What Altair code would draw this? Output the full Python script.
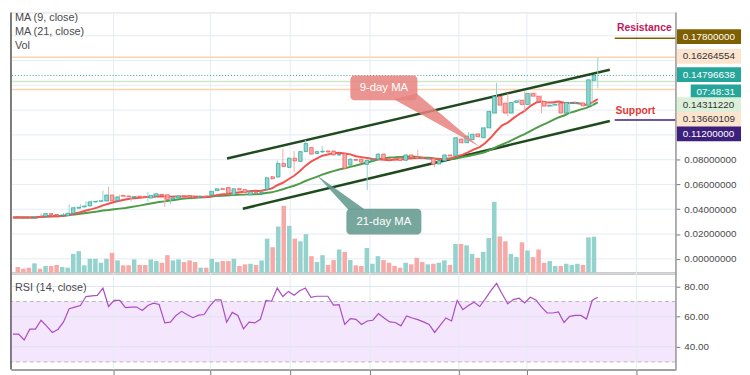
import altair as alt
import pandas as pd
import numpy as np

# ---------------- data ----------------
opens = [0.0337, 0.0336, 0.0335, 0.0331, 0.0337, 0.0343, 0.0365, 0.0358, 0.0350, 0.0347,
         0.0366, 0.0408, 0.0418, 0.0426, 0.0458, 0.0464, 0.0466, 0.0515, 0.0470, 0.0512,
         0.0507, 0.0497, 0.0506, 0.0503, 0.0490, 0.0505, 0.0520, 0.0517, 0.0480, 0.0491,
         0.0508, 0.0510, 0.0501, 0.0498, 0.0506, 0.0513, 0.0550, 0.0566, 0.0575, 0.0515,
         0.0566, 0.0558, 0.0515, 0.0542, 0.0530, 0.0560, 0.0662, 0.0660, 0.0770, 0.0738,
         0.0812, 0.0786, 0.0866, 0.0897, 0.0850, 0.0862, 0.0870, 0.0870, 0.0838, 0.0848,
         0.0757, 0.0802, 0.0804, 0.0762, 0.0795, 0.0804, 0.0845, 0.0808, 0.0802, 0.0815,
         0.0795, 0.0838, 0.0822, 0.0818, 0.0808, 0.0810, 0.0765, 0.0790, 0.0838, 0.0830,
         0.0967, 0.0937, 0.0962, 0.1008, 0.0977, 0.1057, 0.1176, 0.1310, 0.1256, 0.1176,
         0.1262, 0.1280, 0.1245, 0.1335, 0.1312, 0.1270, 0.1232, 0.1240, 0.1256, 0.1176,
         0.1255, 0.1252, 0.1258, 0.1240, 0.1440]
closes = [0.0334, 0.0333, 0.0331, 0.0335, 0.0335, 0.0365, 0.0358, 0.0352, 0.0354, 0.0368,
          0.0412, 0.0416, 0.0426, 0.0460, 0.0463, 0.0468, 0.0515, 0.0468, 0.0500, 0.0505,
          0.0502, 0.0502, 0.0497, 0.0496, 0.0512, 0.0525, 0.0512, 0.0478, 0.0492, 0.0507,
          0.0501, 0.0498, 0.0496, 0.0505, 0.0500, 0.0545, 0.0565, 0.0561, 0.0530, 0.0565,
          0.0556, 0.0536, 0.0542, 0.0536, 0.0538, 0.0653, 0.0646, 0.0770, 0.0745, 0.0812,
          0.0790, 0.0865, 0.0930, 0.0845, 0.0865, 0.0868, 0.0862, 0.0838, 0.0843, 0.0730,
          0.0804, 0.0795, 0.0780, 0.0795, 0.0800, 0.0845, 0.0806, 0.0800, 0.0798, 0.0795,
          0.0838, 0.0820, 0.0810, 0.0810, 0.0812, 0.0763, 0.0790, 0.0838, 0.0830, 0.0977,
          0.0937, 0.0990, 0.1005, 0.0985, 0.1057, 0.1190, 0.1310, 0.1240, 0.1176, 0.1262,
          0.1275, 0.1245, 0.1335, 0.1312, 0.1270, 0.1232, 0.1240, 0.1248, 0.1176, 0.1262,
          0.1260, 0.1257, 0.1234, 0.1445, 0.1480]
highs = [0.0341, 0.0339, 0.0338, 0.0340, 0.0339, 0.0367, 0.0367, 0.0362, 0.0357, 0.0370,
         0.0440, 0.0420, 0.0440, 0.0465, 0.0470, 0.0475, 0.0550, 0.0580, 0.0503, 0.0516,
         0.0509, 0.0508, 0.0509, 0.0505, 0.0540, 0.0527, 0.0523, 0.0520, 0.0498, 0.0512,
         0.0511, 0.0514, 0.0508, 0.0508, 0.0509, 0.0548, 0.0570, 0.0572, 0.0580, 0.0568,
         0.0569, 0.0562, 0.0545, 0.0545, 0.0545, 0.0660, 0.0668, 0.0795, 0.0885, 0.0818,
         0.0870, 0.0870, 0.0960, 0.0905, 0.0870, 0.0910, 0.0875, 0.0875, 0.0850, 0.0852,
         0.0810, 0.0808, 0.0808, 0.0800, 0.0806, 0.0850, 0.0850, 0.0812, 0.0805, 0.0818,
         0.0842, 0.0842, 0.0880, 0.0822, 0.0816, 0.0814, 0.0795, 0.0842, 0.0845, 0.0985,
         0.0972, 0.1025, 0.1012, 0.1012, 0.1062, 0.1195, 0.1420, 0.1315, 0.1335, 0.1270,
         0.1290, 0.1355, 0.1340, 0.1340, 0.1318, 0.1275, 0.1250, 0.1262, 0.1262, 0.1268,
         0.1268, 0.1265, 0.1262, 0.1450, 0.1626]
lows = [0.0330, 0.0330, 0.0328, 0.0322, 0.0332, 0.0340, 0.0355, 0.0349, 0.0347, 0.0345,
        0.0362, 0.0405, 0.0415, 0.0422, 0.0455, 0.0460, 0.0462, 0.0462, 0.0466, 0.0500,
        0.0498, 0.0462, 0.0494, 0.0492, 0.0460, 0.0500, 0.0508, 0.0420, 0.0440, 0.0488,
        0.0498, 0.0495, 0.0490, 0.0494, 0.0497, 0.0510, 0.0546, 0.0552, 0.0527, 0.0512,
        0.0552, 0.0532, 0.0512, 0.0532, 0.0525, 0.0555, 0.0640, 0.0655, 0.0740, 0.0732,
        0.0700, 0.0780, 0.0860, 0.0840, 0.0845, 0.0855, 0.0858, 0.0832, 0.0830, 0.0722,
        0.0750, 0.0790, 0.0776, 0.0555, 0.0790, 0.0800, 0.0800, 0.0796, 0.0794, 0.0790,
        0.0790, 0.0815, 0.0805, 0.0805, 0.0803, 0.0740, 0.0760, 0.0786, 0.0826, 0.0826,
        0.0930, 0.0930, 0.0958, 0.0980, 0.0972, 0.1050, 0.1170, 0.1180, 0.1150, 0.1170,
        0.1255, 0.1190, 0.1240, 0.1305, 0.1176, 0.1225, 0.1225, 0.1235, 0.1165, 0.1170,
        0.1250, 0.1245, 0.1228, 0.1235, 0.1375]
volume = [6, 4.3, 5.3, 9.7, 4.3, 7, 7, 8, 6, 5.3,
          19.3, 22, 7.7, 14.3, 14.3, 10.3, 14.3, 20.3, 12.7, 7.7,
          7.7, 13.7, 8, 8, 13.7, 12, 10.3, 18, 12.7, 13.7,
          11, 12.7, 11, 5.3, 5.3, 14.3, 11, 12, 12, 14.3,
          7, 8.7, 9.3, 8, 12.7, 34.7, 26, 47, 68, 47.7,
          34.7, 32, 39.3, 17, 11, 18, 8, 13, 23.7, 21.3,
          13, 7.7, 7, 25.3, 9.3, 17, 13, 10.3, 7, 5.3,
          10.3, 8.7, 15.3, 11, 8.7, 9.3, 10.3, 12.7, 8, 29.3,
          29.3, 28, 19.3, 15.3, 21.3, 35.3, 72, 37, 32, 19.3,
          16, 31, 22.7, 16, 23.7, 10.3, 12, 7, 7, 9.3,
          8, 9.3, 8, 36, 36.7]
rsi14 = [48.4, 48.4, 44.5, 51.7, 51.7, 57.6, 53.7, 49.5, 51.5, 56.5,
         65.2, 66.3, 67.4, 73.3, 73.7, 74.1, 78.9, 66.7, 70.7, 70.7,
         65.9, 66.3, 66.3, 64.1, 67.4, 68.9, 68.0, 55.8, 56.3, 60.8,
         63.5, 61.3, 59.3, 61.0, 61.4, 66.9, 71.1, 71.1, 56.3, 62.8,
         60.8, 51.9, 56.3, 55.8, 58.2, 70.7, 70.2, 78.9, 73.3, 76.7,
         74.1, 77.1, 78.9, 72.8, 73.5, 73.5, 73.5, 67.6, 68.0, 54.8,
         58.7, 58.2, 54.8, 57.1, 57.6, 62.0, 59.1, 56.5, 56.1, 53.9,
         60.4, 59.1, 58.0, 56.5, 54.8, 49.5, 54.3, 59.1, 57.1, 70.7,
         64.6, 67.4, 69.6, 66.7, 71.8, 77.2, 82.0, 75.0, 68.5, 71.3,
         72.2, 69.1, 72.8, 71.1, 66.3, 62.4, 62.4, 63.1, 56.1, 60.2,
         60.8, 60.8, 58.4, 70.7, 72.8]
date_ticks = [17.9, 35.1, 49.3, 63.5, 79.3, 91.4, 110.9]
price_ticks = [0.0, 0.02, 0.04, 0.06, 0.08]
price_grid = [0.0, 0.02, 0.04, 0.06, 0.08, 0.10, 0.12, 0.14, 0.16, 0.18]
rsi_grid = [40, 60, 80]
rsi_bands = [30, 70]
resistance = 0.178
support = 0.112
level_prices = [0.16264554, 0.14311220, 0.13660109]
last_price = 0.14796638

# ---------------- layout (reference pixel geometry) ----------------
W, H1, H2 = 674, 264, 98
X0, DX = 10.0, 5.7
PY0, PK = 257.7, 1256.0
RY70, RK = 301.0, 1.53
TOP = 8

def ix(px):
    return (px - X0) / DX

def pp(py):
    return (PY0 - py) / PK

def rr(py):
    return 70 - (py - RY70) / RK

xs = alt.Scale(domain=[ix(8), ix(8 + W)], nice=False, zero=False)
ps = alt.Scale(domain=[pp(TOP + H1), pp(TOP)], nice=False, zero=False)
vs = alt.Scale(domain=[0, H1], nice=False, zero=False)
rs = alt.Scale(domain=[rr(TOP + H1 + H2), rr(TOP + H1)], nice=False, zero=False)

UP, DOWN = "#26a69a", "#ef5350"
VUP, VDOWN = "#94d3cd", "#f7a9a7"
GRID = "#e4ecf2"
AXIS = "#9b9b9b"
FONT = "Liberation Sans"

df = pd.DataFrame(dict(i=range(len(closes)), o=opens, h=highs, l=lows, c=closes,
                       v=volume, rsi=rsi14))
df["dir"] = np.where(df.c >= df.o, "up", "down")
df["ma9"] = df.c.rolling(9, min_periods=1).mean()
df["ma21"] = df.c.rolling(21, min_periods=1).mean()

base = alt.Chart(df)
X = alt.X("i:Q", scale=xs, axis=None)
cscale = alt.Scale(domain=["up", "down"], range=[UP, DOWN])
vscale = alt.Scale(domain=["up", "down"], range=[VUP, VDOWN])

def Yp(field, axis=None):
    return alt.Y(field, scale=ps, axis=axis)

one = pd.DataFrame({"a": [0]})

grid_v = alt.Chart(pd.DataFrame({"g": date_ticks})).mark_rule(color=GRID).encode(
    x=alt.X("g:Q", scale=xs, axis=None))
grid_h = alt.Chart(pd.DataFrame({"p": price_grid})).mark_rule(color=GRID).encode(y=Yp("p:Q"))

vol = base.mark_bar(size=4.6).encode(
    x=X, y=alt.Y("v:Q", scale=vs, axis=None),
    color=alt.Color("dir:N", scale=vscale, legend=None))

levels = alt.Chart(pd.DataFrame({"p": level_prices, "col": ["#fcd3b0", "#cfe8cb", "#fcd3b0"]})).mark_rule(
    strokeWidth=1.5).encode(y=Yp("p:Q"), color=alt.Color("col:N", scale=None))
lastline = alt.Chart(pd.DataFrame({"p": [last_price]})).mark_rule(
    color=UP, strokeDash=[1, 2], strokeWidth=1).encode(y=Yp("p:Q"))

trend_df = pd.DataFrame({
    "line": ["u", "u", "l", "l"],
    "x": [ix(227), ix(615), ix(243), ix(615)],
    "p": [pp(156), pp(66), pp(207), pp(118)],
})
trend = alt.Chart(trend_df).mark_line(color="#1f4a1d", strokeWidth=2.5).encode(
    x=alt.X("x:Q", scale=xs, axis=None), y=Yp("p:Q"), detail="line:N")

ma21 = base.mark_line(color="#4e9c48", strokeWidth=2).encode(x=X, y=Yp("ma21:Q"))
ma9 = base.mark_line(color="#f05350", strokeWidth=2).encode(x=X, y=Yp("ma9:Q"))

wicks = base.mark_rule(strokeWidth=1).encode(
    x=X, y=Yp("l:Q"), y2="h:Q", color=alt.Color("dir:N", scale=cscale, legend=None))
bodies = base.mark_bar(size=3.6, strokeWidth=0.7).encode(
    x=alt.X("i:Q", scale=xs, axis=alt.Axis(orient="bottom", labels=False, ticks=False, grid=False,
                                            domainColor=AXIS, domainWidth=2, title=None)),
    y=Yp("o:Q", axis=alt.Axis(orient="right", values=price_ticks, format=".8f", grid=False,
                               tickSize=4, tickColor="#777", labelPadding=4, labelColor="#4a4a4a",
                               labelFontSize=10, labelFont=FONT, domain=False, title=None)),
    y2="c:Q",
    color=alt.Color("dir:N", scale=cscale, legend=None),
    stroke=alt.Stroke("dir:N", scale=cscale, legend=None))


def triangle(pts):
    pts = sorted(pts)
    (x0, y0), (x1, y1), (x2, y2) = pts
    ym = y0 + (y2 - y0) * (x1 - x0) / (x2 - x0)
    return pd.DataFrame({"x": [ix(x0), ix(x1), ix(x2)],
                         "y": [pp(y0), pp(y1), pp(y2)],
                         "y2": [pp(y0), pp(ym), pp(y2)]})


def callout(box, pointer, color, label):
    (bx0, by0, bx1, by1) = box
    area = alt.Chart(triangle(pointer)).mark_area(color=color, opacity=0.85).encode(
        x=alt.X("x:Q", scale=xs, axis=None), y=Yp("y:Q"), y2="y2:Q")
    rect = alt.Chart(pd.DataFrame({"x1": [ix(bx0)], "x2": [ix(bx1)], "y1": [pp(by0)], "y2": [pp(by1)]})
                     ).mark_rect(color=color, opacity=0.85, cornerRadius=4).encode(
        x=alt.X("x1:Q", scale=xs, axis=None), x2="x2:Q", y=Yp("y1:Q"), y2="y2:Q")
    txt = alt.Chart(pd.DataFrame({"x": [ix((bx0 + bx1) / 2)], "y": [pp((by0 + by1) / 2)], "t": [label]})
                    ).mark_text(color="white", fontSize=11.5, font=FONT).encode(
        x=alt.X("x:Q", scale=xs, axis=None), y=Yp("y:Q"), text="t:N")
    return [area, rect, txt]


c9 = callout((352, 72, 420, 97), [(396, 96), (419, 90), (483, 144)], "#e8837f", "9-day MA")
c21 = callout((348, 207, 424, 233), [(318, 173), (350, 208), (367, 208)], "#5f968c", "21-day MA")

sr_df = pd.DataFrame({"x1": [ix(620), ix(620)], "x2": [ix(682), ix(682)],
                      "p": [resistance, support], "col": ["#7f6000", "#3d1f7c"]})
sr_lines = alt.Chart(sr_df).mark_rule(strokeWidth=1.5).encode(
    x=alt.X("x1:Q", scale=xs, axis=None), x2="x2:Q", y=Yp("p:Q"), color=alt.Color("col:N", scale=None))
sr_txt = alt.Chart(pd.DataFrame({"x": [ix(650), ix(641)], "y": [pp(24), pp(108)],
                                 "t": ["Resistance", "Support"], "col": ["#c2185b", "#e53935"]})
                   ).mark_text(fontSize=10.5, fontWeight="bold", font=FONT).encode(
    x=alt.X("x:Q", scale=xs, axis=None), y=Yp("y:Q"), text="t:N", color=alt.Color("col:N", scale=None))

right_border = alt.Chart(one).mark_rule(color=AXIS, strokeWidth=1.5).encode(x=alt.value(W))

tags = pd.DataFrame({
    "t": ["0.17800000", "0.16264554", "0.14796638", "07:48:31", "0.14311220", "0.13660109", "0.11200000"],
    "yc": [32.5, 52.5, 71, 88.5, 101.5, 116.5, 131],
    "x0": [683, 683, 683, 697, 683, 683, 683],
    "bg": ["#7f6000", "#fde4cf", UP, UP, "#dcefd9", "#fde4cf", "#3d1f7c"],
    "fg": ["white", "#333333", "white", "white", "#333333", "#333333", "white"],
})
tags["xa"] = ix(tags.x0)
tags["xb"] = ix(748)
tags["xt"] = ix(tags.x0 + 6)
tags["ya"] = pp(tags.yc - 7.5)
tags["yb"] = pp(tags.yc + 7.5)
tags["yp"] = pp(tags.yc)
tag_rect = alt.Chart(tags).mark_rect().encode(
    x=alt.X("xa:Q", scale=xs, axis=None), x2="xb:Q", y=Yp("ya:Q"), y2="yb:Q",
    color=alt.Color("bg:N", scale=None))
tag_txt = alt.Chart(tags).mark_text(align="left", baseline="middle", fontSize=10, font=FONT).encode(
    x=alt.X("xt:Q", scale=xs, axis=None), y=Yp("yp:Q"), text="t:N", color=alt.Color("fg:N", scale=None))

legend_df = pd.DataFrame({"x": [ix(12)] * 3, "y": [pp(14), pp(28), pp(42)],
                          "t": ["MA (9, close)", "MA (21, close)", "Vol"]})
legend = alt.Chart(legend_df).mark_text(align="left", baseline="middle", fontSize=11,
                                        color="#4a4a4a", font=FONT).encode(
    x=alt.X("x:Q", scale=xs, axis=None), y=Yp("y:Q"), text="t:N")

left_border = alt.Chart(one).mark_rule(color="#555", strokeWidth=1.5).encode(x=alt.value(0))

top = alt.layer(
    grid_v, grid_h, vol, levels, lastline, trend, ma21, ma9, wicks, bodies,
    *c9, *c21, sr_lines, sr_txt, right_border, tag_rect, tag_txt, legend, left_border
).resolve_scale(y="independent", x="independent").properties(width=W, height=H1)

# ---------------- RSI panel ----------------
def Yr(f, axis=None):
    return alt.Y(f, scale=rs, axis=axis)

band = alt.Chart(pd.DataFrame({"lo": [rsi_bands[0]], "hi": [rsi_bands[1]]})).mark_rect(
    color="#f4e6fc").encode(x=alt.value(0), x2=alt.value(W), y=Yr("hi:Q"), y2="lo:Q")
rgrid_v = alt.Chart(pd.DataFrame({"g": date_ticks})).mark_rule(color=GRID).encode(
    x=alt.X("g:Q", scale=xs, axis=None))
rgrid_h = alt.Chart(pd.DataFrame({"r": rsi_grid})).mark_rule(color="#e0e4f0").encode(y=Yr("r:Q"))
rdash = alt.Chart(pd.DataFrame({"r": rsi_bands})).mark_rule(
    color="#b9b9b9", strokeDash=[4, 3]).encode(y=Yr("r:Q"))
rline = base.mark_line(color="#ab4cc4", strokeWidth=1.2).encode(
    x=alt.X("i:Q", scale=xs, axis=alt.Axis(orient="bottom", values=date_ticks, labels=False,
                                            ticks=True, tickSize=5, tickColor="#777", grid=False,
                                            domainColor="#888", domainWidth=1.5, title=None)),
    y=Yr("rsi:Q", axis=alt.Axis(orient="right", values=rsi_grid, format=".2f", grid=False,
                                 tickSize=4, tickColor="#777", labelPadding=4, labelColor="#4a4a4a",
                                 labelFontSize=10, labelFont=FONT, domain=False, title=None)))
rlabel = alt.Chart(pd.DataFrame({"x": [ix(12)], "y": [rr(287)], "t": ["RSI (14, close)"]})).mark_text(
    align="left", baseline="middle", fontSize=11, color="#4a4a4a", font=FONT).encode(
    x=alt.X("x:Q", scale=xs, axis=None), y=Yr("y:Q"), text="t:N")
rborder = alt.Chart(one).mark_rule(color="#555", strokeWidth=1.5).encode(x=alt.value(0))
rright = alt.Chart(one).mark_rule(color=AXIS, strokeWidth=1.5).encode(x=alt.value(W))

bottom = alt.layer(band, rgrid_v, rgrid_h, rdash, rline, rlabel, rborder, rright).resolve_scale(
    y="independent", x="independent").properties(width=W, height=H2)

chart = alt.vconcat(top, bottom, spacing=0, bounds="flush").properties(
    padding=0).configure_view(stroke=None).configure(font=FONT)

chart.save("out.html", embed_options={"renderer": "svg", "actions": False})
